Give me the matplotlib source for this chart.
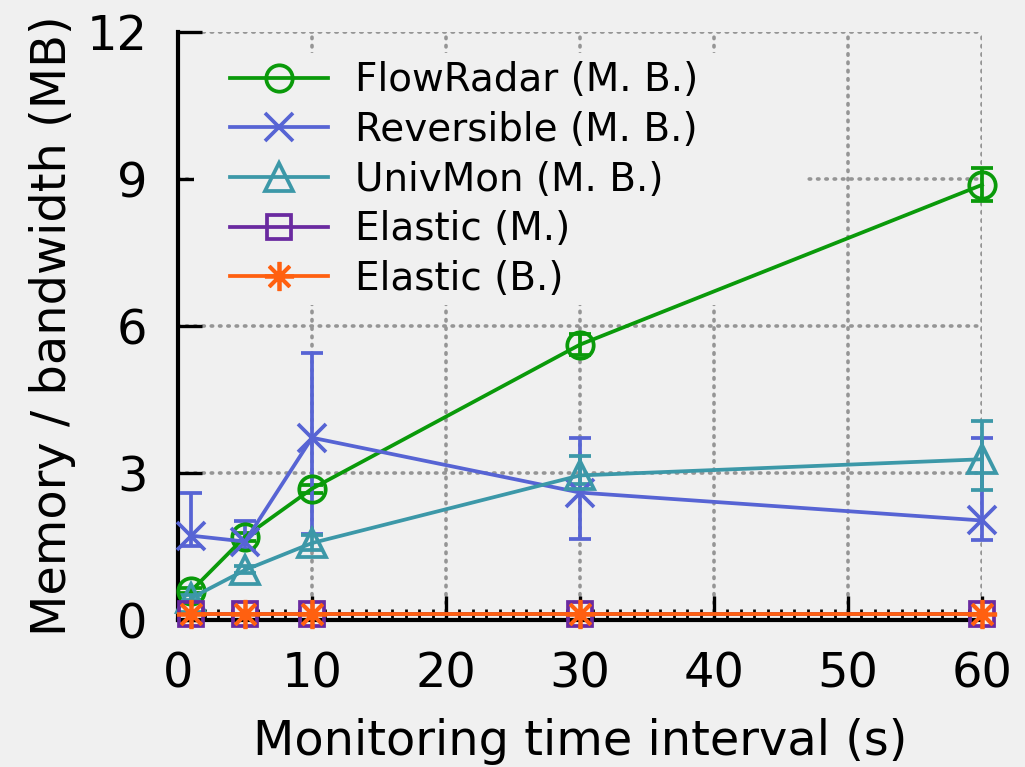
import matplotlib
matplotlib.use("Agg")
import matplotlib.pyplot as plt
from matplotlib.patches import Rectangle
from matplotlib.ticker import MultipleLocator

# monitoring interval (s)
intervals = [1, 5, 10, 30, 60]

flowradar = [0.60, 1.70, 2.68, 5.62, 8.88]
flowradar_low = [0.55, 1.62, 2.60, 5.40, 8.55]
flowradar_high = [0.65, 1.78, 2.76, 5.84, 9.22]

reversible = [1.72, 1.60, 3.72, 2.60, 2.03]
reversible_low = [1.50, 1.45, 1.75, 1.66, 1.64]
reversible_high = [2.60, 2.02, 5.45, 3.72, 3.72]

univmon = [0.45, 1.02, 1.57, 2.95, 3.28]
univmon_low = [0.40, 0.95, 1.42, 2.78, 2.66]
univmon_high = [0.50, 1.10, 1.74, 3.35, 4.06]

elastic_m = [0.12, 0.12, 0.12, 0.12, 0.12]
elastic_b = [0.12, 0.12, 0.12, 0.12, 0.12]

labels = ["FlowRadar (M. B.)", "Reversible (M. B.)", "UnivMon (M. B.)",
          "Elastic (M.)", "Elastic (B.)"]
colors = ["#0a9a0a", "#5764d4", "#3c98a8", "#6a2aa0", "#ff6010"]

bg = "#f0f0f0"
plt.rcParams["font.family"] = ["DejaVu Sans"]

fig = plt.figure(figsize=(10.25, 7.67), dpi=100, facecolor=bg)
ax = fig.add_axes([0.1737, 0.1917, 0.7844, 0.7666], facecolor=bg)


def err(y, lo, hi):
    return [[a - b for a, b in zip(y, lo)], [b - a for a, b in zip(y, hi)]]


series = [
    (flowradar, err(flowradar, flowradar_low, flowradar_high), "o", 19),
    (reversible, err(reversible, reversible_low, reversible_high), "x", 20),
    (univmon, err(univmon, univmon_low, univmon_high), "^", 20),
]
handles = []
for (y, e, m, ms), c in zip(series, colors[:3]):
    cont = ax.errorbar(intervals, y, yerr=e, color=c, marker=m, ms=ms,
                       mfc="none", mew=2.7, lw=2.7, elinewidth=2.7,
                       capsize=8, capthick=2.7, zorder=3)
    for art in cont.get_children():
        art.set_clip_on(False)
    handles.append(cont.lines[0])

h, = ax.plot(intervals, elastic_m, color=colors[3], marker="s", ms=17,
             mfc="none", mew=2.7, lw=2.7, clip_on=False, zorder=4)
handles.append(h)
h, = ax.plot(intervals, elastic_b, color=colors[4], marker=(8, 2, 0), ms=21,
             mew=2.7, lw=2.7, clip_on=False, zorder=5)
handles.append(h)

ax.set_xlim(0, 60)
ax.set_ylim(0, 12)
ax.set_xticks(range(0, 61, 10))
ax.set_yticks([0, 3, 6, 9, 12])
ax.xaxis.set_minor_locator(MultipleLocator(1))

ax.set_axisbelow(True)
ax.grid(True, which="major", color="#959595", linestyle=(0, (0.4, 1.9)),
        linewidth=2.6, dash_capstyle="round")

for s in ["top", "right"]:
    ax.spines[s].set_visible(False)
for s in ["left", "bottom"]:
    ax.spines[s].set_linewidth(3)
    ax.spines[s].set_zorder(2.5)

ax.tick_params(which="major", direction="in", length=17, width=2.4,
               labelsize=34.5, pad=22, top=False, right=False)
ax.tick_params(which="minor", direction="in", length=8, width=2,
               top=False, right=False)
ax.tick_params(axis="y", pad=22)

ax.set_xlabel("Monitoring time interval (s)", fontsize=34.5, labelpad=15)
ax.set_ylabel("Memory / bandwidth (MB)", fontsize=34.5, labelpad=8)

# opaque key area hides the grid like gnuplot's key box
ax.add_patch(Rectangle((0.02, 0.535), 0.76, 0.43, transform=ax.transAxes,
                       facecolor=bg, edgecolor="none", zorder=1))

ax.legend(handles, labels, loc="upper left", bbox_to_anchor=(0.065, 0.95),
          frameon=False, fontsize=28, handlelength=2.5, handletextpad=0.7,
          labelspacing=0.3, borderpad=0, borderaxespad=0)

fig.savefig("out.png", dpi=100, facecolor=bg)
